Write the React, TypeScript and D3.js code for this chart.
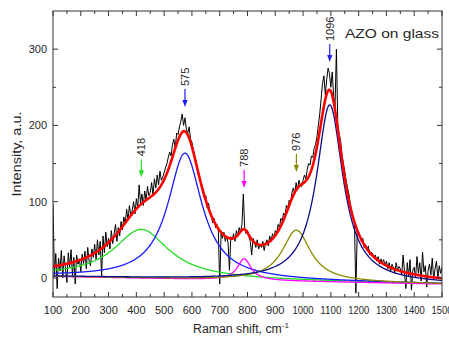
import React from "react";
import * as d3 from "d3";

// Raw Raman spectrum (intensity, a.u.) sampled every 5 cm-1 from 100 to 1500 cm-1
const ramanStart = 100;
const ramanStep = 5;
const rawIntensity = [
  97, 4, 32, -14, 26, 9, 36, 0, 29, 12,
  -6, 33, 14, 37, 3, 27, -8, 30, 18, 25,
  8, 31, 19, 35, 12, 40, 22, 16, 38, 27,
  44, 24, 50, 30, 48, 2, 55, 33, 60, 41,
  52, 38, 62, 45, 58, 70, 48, 66, 55, 74,
  63, 80, 71, 90, 76, 95, 82, 88, 100, 84,
  104, 92, 122, 98, 110, 95, 114, 102, 120, 108,
  112, 125, 108, 130, 118, 135, 122, 140, 128, 132,
  138, 145, 150, 158, 165, 160, 175, 182, 170, 190,
  188, 198, 205, 215, 200, 210, 195, 190, 198, 182,
  178, 168, 160, 152, 140, 135, 128, 118, 112, 105,
  108, 92, 98, 84, 80, 72, 78, 66, 70, 62,
  -8, 58, 52, 60, 48, 55, 46, 10, 54, 50,
  58, 48, 62, 55, 66, 60, 70, 110, 64, 58,
  62, 54, 48, 30, 52, 46, 40, 50, 38, 44,
  40, 48, 36, 45, 50, 42, 55, 48, 58, 52,
  62, 58, 70, 66, 78, 75, 85, 82, 95, 90,
  102, 98, 112, 118, 110, 125, 115, 128, 122, 120,
  128, 135, 130, 142, 150, 148, 160, 158, 170, 175,
  185, 200, 215, 235, 255, 265, 240, 260, 275, 268,
  250, 270, 238, 225, 300, 200, 188, 180, 162, 150,
  140, 128, 118, 110, 96, 88, 80, 72, -20, 62,
  60, 54, 48, 52, 40, 44, 36, 42, 30, 34,
  32, 26, 30, 22, 28, 18, 25, 20, 24, 16,
  22, 12, 20, 8, 18, 14, 6, 20, 10, 15,
  12, 4, 30, 8, -14, 20, 2, 24, -16, 10,
  14, 0, 28, 6, 20, -4, 34, 8, 16, -12,
  10, 18, 4, 26, -2, 12, 22, 0, 16, 6, 14,
];

// Fitted Lorentzian components
const peakLabels = ["418", "575", "788", "976", "1096"];
const peakCenters = [418, 575, 788, 976, 1096];
const peakHeights = [64, 165, 28, 67, 232];
const peakHalfWidths = [120, 75, 30, 62, 58];
const peakColors = ["#22dd22", "#1a1aff", "#ff00ff", "#8a8a00", "#0c0c8a"];
const arrowColors = ["#22dd22", "#1a1aff", "#ff00ff", "#8a8a00", "#2222ee"];
const arrowTipValues = [132, 224, 118, 139, 283];
const baselineEnds = [2, -8];

const xTicks = [100, 200, 300, 400, 500, 600, 700, 800, 900, 1000, 1100, 1200, 1300, 1400, 1500];
const xMinorTicks = [150, 250, 350, 450, 550, 650, 750, 850, 950, 1050, 1150, 1250, 1350, 1450];
const yTicks = [0, 100, 200, 300];
const yMinorTicks = [50, 150, 250];

const FONT = "'Liberation Sans', Arial, sans-serif";
const TXT = "#262626";

export default function App() {
  const W = 449, H = 343;
  const L = 53, R = 442, T = 11, B = 297;
  const x = d3.scaleLinear().domain([100, 1500]).range([L, R]);
  const y = d3.scaleLinear().domain([-25, 350]).range([B, T]);

  const line = d3.line<[number, number]>().x(d => x(d[0])).y(d => y(d[1]));

  const rawPts: [number, number][] = rawIntensity.map((v, i) => [ramanStart + i * ramanStep, v]);
  const grid = d3.range(100, 1500.001, 2);
  const base = (xv: number) =>
    baselineEnds[0] + ((baselineEnds[1] - baselineEnds[0]) * (xv - 100)) / 1400;
  const lor = (k: number, xv: number) =>
    peakHeights[k] / (1 + ((xv - peakCenters[k]) / peakHalfWidths[k]) ** 2);

  const compPaths = peakCenters.map((_, k) =>
    line(grid.map(xv => [xv, base(xv) + lor(k, xv)] as [number, number]))
  );
  const sumPath = line(
    grid.map(xv => {
      let s = base(xv);
      for (let k = 0; k < peakCenters.length; k++) s += lor(k, xv);
      return [xv, s] as [number, number];
    })
  );

  const majLen = 5, minLen = 3;

  return (
    <svg
      width={W}
      height={H}
      style={{ position: "absolute", left: 0, top: 0, background: "#fff" }}
      fontFamily={FONT}
    >
      <defs>
        <clipPath id="plotclip">
          <rect x={L} y={T} width={R - L} height={B - T} />
        </clipPath>
      </defs>
      <rect x={0} y={0} width={W} height={H} fill="#fff" />

      <g clipPath="url(#plotclip)">
        <path d={line(rawPts) || ""} fill="none" stroke="#000" strokeWidth={1} strokeLinejoin="round" />
        {compPaths.map((d, k) => (
          <path key={k} d={d || ""} fill="none" stroke={peakColors[k]} strokeWidth={1.3} />
        ))}
        <path d={sumPath || ""} fill="none" stroke="#ff0000" strokeWidth={2.6} />
      </g>

      {/* frame */}
      <rect x={L} y={T} width={R - L} height={B - T} fill="none" stroke="#333" strokeWidth={1} />

      {/* x ticks bottom & top */}
      {xTicks.map(t => (
        <g key={"xt" + t}>
          <line x1={x(t)} x2={x(t)} y1={B} y2={B - majLen} stroke="#333" />
          <line x1={x(t)} x2={x(t)} y1={T} y2={T + majLen} stroke="#333" />
          <text x={x(t)} y={313.5} textAnchor="middle" fontSize={11} fill={TXT}
            {...(t >= 1000 ? { textLength: 21, lengthAdjust: "spacingAndGlyphs" } : {})}>
            {t}
          </text>
        </g>
      ))}
      {xMinorTicks.map(t => (
        <g key={"xm" + t}>
          <line x1={x(t)} x2={x(t)} y1={B} y2={B - minLen} stroke="#333" />
          <line x1={x(t)} x2={x(t)} y1={T} y2={T + minLen} stroke="#333" />
        </g>
      ))}

      {/* y ticks left & right */}
      {yTicks.map(t => (
        <g key={"yt" + t}>
          <line x1={L} x2={L + majLen} y1={y(t)} y2={y(t)} stroke="#333" />
          <line x1={R} x2={R - majLen} y1={y(t)} y2={y(t)} stroke="#333" />
          <text x={47} y={y(t)} dy="0.36em" textAnchor="end" fontSize={11} fill={TXT}>
            {t}
          </text>
        </g>
      ))}
      {yMinorTicks.map(t => (
        <g key={"ym" + t}>
          <line x1={L} x2={L + minLen} y1={y(t)} y2={y(t)} stroke="#333" />
          <line x1={R} x2={R - minLen} y1={y(t)} y2={y(t)} stroke="#333" />
        </g>
      ))}

      {/* axis titles */}
      <text x={193} y={333} fontSize={12.3} fill={TXT}>
        Raman shift, cm
        <tspan fontSize={8} dy={-5}>-1</tspan>
      </text>
      <text
        transform={`translate(21,154) rotate(-90)`}
        textAnchor="middle"
        fontSize={13}
        fill={TXT}
        textLength={85}
        lengthAdjust="spacingAndGlyphs"
      >
        Intensity, a.u.
      </text>

      {/* sample label */}
      <text x={345} y={37.5} fontSize={13} fill={TXT} textLength={94} lengthAdjust="spacingAndGlyphs">
        AZO on glass
      </text>

      {/* peak annotations */}
      {peakCenters.map((c, k) => {
        const px = x(c);
        const tip = y(arrowTipValues[k]);
        const top = tip - 18;
        const c2 = arrowColors[k];
        return (
          <g key={"ann" + k}>
            <line x1={px} x2={px} y1={top} y2={tip - 6} stroke={c2} strokeWidth={1.2} />
            <path d={`M${px - 2.6},${tip - 7} L${px + 2.6},${tip - 7} L${px},${tip} Z`} fill={c2} />
            <text
              transform={`translate(${px},${top - 3}) rotate(-90)`}
              dy="0.36em"
              textAnchor="start"
              fontSize={11}
              fill={TXT}
            >
              {peakLabels[k]}
            </text>
          </g>
        );
      })}
    </svg>
  );
}
